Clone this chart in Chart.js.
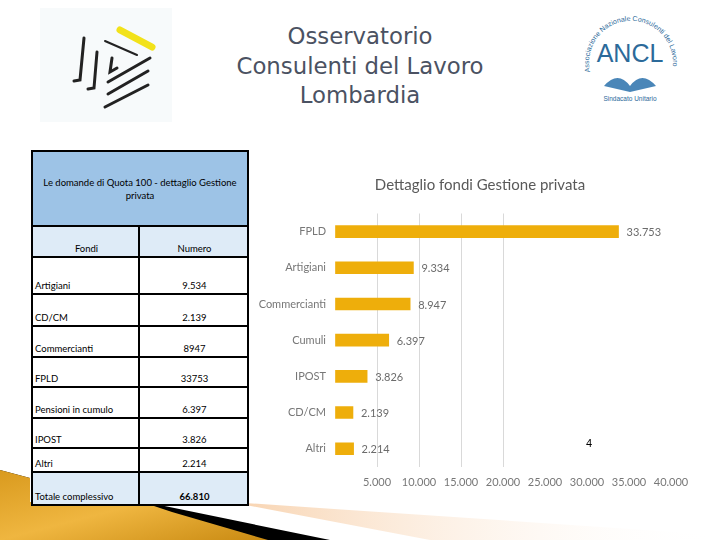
<!DOCTYPE html>
<html>
<head>
<meta charset="utf-8">
<script src="https://cdn.jsdelivr.net/npm/chart.js@4/dist/chart.umd.min.js"></script>
<style>
  body { margin:0; width:720px; height:540px; background:#fff; position:relative; overflow:hidden; font-family:Lato, "Liberation Sans", sans-serif; }
  #deco { position:absolute; left:0; top:0; }
  #title { position:absolute; left:160px; top:22px; width:400px; text-align:center; font-family:"DejaVu Sans", sans-serif; font-size:22.8px; line-height:29.5px; color:#4b5262; }
  #tbl { position:absolute; left:31px; top:150px; width:218px; border:2px solid #000; box-sizing:border-box; background:#fff; }
  .row { display:flex; border-top:2px solid #000; box-sizing:border-box; }
  .row:first-child { border-top:none; }
  .c { display:flex; align-items:flex-end; box-sizing:border-box; font-size:9.5px; color:#000; padding:0 0 2px 2px; }
  .c1 { width:107px; border-right:2px solid #000; }
  .c2 { flex:1; justify-content:center; }
  #wrap { position:absolute; left:255px; top:165px; width:450px; height:340px; }
  #pg { position:absolute; left:586px; top:437px; font:11px "Liberation Sans", Arial, sans-serif; color:#000; }
</style>
</head>
<body>
<svg id="deco" width="720" height="540">
  <defs>
    <linearGradient id="gold" x1="0" y1="0" x2="1" y2="1">
      <stop offset="0" stop-color="#d99a1e"/>
      <stop offset="0.5" stop-color="#efb640"/>
      <stop offset="1" stop-color="#c98a12"/>
    </linearGradient>
    <linearGradient id="peach" x1="0" y1="0" x2="1" y2="0">
      <stop offset="0" stop-color="#f6c79a"/>
      <stop offset="1" stop-color="#fff" stop-opacity="0"/>
    </linearGradient>
  </defs>
  <polygon points="230,502 720,535 720,540 430,540" fill="url(#peach)" opacity="0.8"/>
  <polygon points="0,470 30,478 30,502 150,503 330,540 0,540" fill="#000"/>
  <polygon points="0,470 30,478 30,502 148,504 172,512 268,540 0,540" fill="url(#gold)"/>
  <!-- logo sinistra -->
  <rect x="40" y="8" width="132" height="114" fill="#f7fafb"/>
  <g stroke="#222" stroke-width="3" stroke-linecap="round" fill="none">
    <path d="M84,38 L80,80 L74,81"/>
    <path d="M97,52 L94,88 L88,89"/>
    <line x1="105" y1="41" x2="137" y2="55" stroke-width="2"/>
    <path d="M112,58 L110,72 L117,68"/>
    <line x1="108" y1="82" x2="150" y2="58"/>
    <line x1="108" y1="94" x2="148" y2="71"/>
    <line x1="105" y1="107" x2="148" y2="85"/>
  </g>
  <line x1="120" y1="30" x2="152" y2="47" stroke="#f2e21a" stroke-width="7" stroke-linecap="round"/>
  <!-- logo destra -->
  <g font-family="Liberation Sans, Arial, sans-serif" fill="#2c6a9a">
    <text x="630" y="62" text-anchor="middle" font-size="25">ANCL</text>
    <path id="arc" d="M590,72 A42,42 0 1,1 672,72" fill="none"/>
    <text font-size="7"><textPath href="#arc">Associazione Nazionale Consulenti del Lavoro</textPath></text>
    <text x="630" y="101" text-anchor="middle" font-size="6.5">Sindacato Unitario</text>
    <path d="M604,86 Q618,70 630,86 Q642,70 656,86 L630,92 Z" fill="#4a86b8"/>
  </g>
</svg>
<div id="title">Osservatorio<br>Consulenti del Lavoro<br>Lombardia</div>
<div id="tbl"></div>
<div id="wrap"><canvas id="chart"></canvas></div>
<div id="pg">4</div>
<script>
// dati grafico
var titolo = 'Dettaglio fondi Gestione privata';
var fondi = ['FPLD', 'Artigiani', 'Commercianti', 'Cumuli', 'IPOST', 'CD/CM', 'Altri'];
var domande = [33753, 9334, 8947, 6397, 3826, 2139, 2214];
var tickVals = [5000, 10000, 15000, 20000, 25000, 30000, 35000, 40000];

// dati tabella
var tabTitolo = 'Le domande di Quota 100 - dettaglio Gestione privata';
var tabCol = ['Fondi', 'Numero'];
var tabFondi = ['Artigiani', 'CD/CM', 'Commercianti', 'FPLD', 'Pensioni in cumulo', 'IPOST', 'Altri', 'Totale complessivo'];
var tabNumeri = ['9.534', '2.139', '8947', '33753', '6.397', '3.826', '2.214', '66.810'];

function fmt(v) {
    return String(v).replace(/\B(?=(\d{3})+(?!\d))/g, '.');
}

// tabella
var rowH = [31, 37, 32, 31, 30, 31, 30, 24, 33];
var tbl = document.getElementById('tbl');
var h = '<div class="row" style="height:73px;background:#9dc3e6;"><div class="c" style="width:100%;justify-content:center;align-items:center;text-align:center;padding:0 4px;font-size:9.5px;line-height:13px">' + tabTitolo + '</div></div>';
h += '<div class="row" style="height:' + rowH[0] + 'px;background:#deebf7"><div class="c c1" style="justify-content:center">' + tabCol[0] + '</div><div class="c c2">' + tabCol[1] + '</div></div>';
for (var i = 0; i < tabFondi.length; i++) {
    var last = i == tabFondi.length - 1;
    h += '<div class="row" style="height:' + rowH[i + 1] + 'px;' + (last ? 'background:#deebf7' : '') + '">' +
        '<div class="c c1">' + tabFondi[i] + '</div>' +
        '<div class="c c2"' + (last ? ' style="font-weight:bold"' : '') + '>' + tabNumeri[i] + '</div></div>';
}
tbl.innerHTML = h;

// titolo centrato sul canvas + etichette valori a fine barra
var extras = {
    id: 'extras',
    afterDraw: function (chart) {
        var ctx = chart.ctx;
        ctx.save();
        ctx.font = '15px Lato, sans-serif';
        ctx.fillStyle = '#595959';
        ctx.textAlign = 'center';
        ctx.textBaseline = 'middle';
        ctx.fillText(titolo, chart.width / 2, 20);
        ctx.restore();
    },
    afterDatasetsDraw: function (chart) {
        var ctx = chart.ctx;
        var meta = chart.getDatasetMeta(0);
        ctx.save();
        ctx.font = '11px Lato, sans-serif';
        ctx.fillStyle = '#6b6b6b';
        ctx.textAlign = 'left';
        ctx.textBaseline = 'middle';
        meta.data.forEach(function (bar, i) {
            ctx.fillText(fmt(domande[i]), bar.x + 8, bar.y + 1);
        });
        ctx.restore();
    }
};

new Chart(document.getElementById('chart'), {
    type: 'bar',
    data: {
        labels: fondi,
        datasets: [{
            data: domande,
            backgroundColor: '#eeae0b',
            barThickness: 12
        }]
    },
    options: {
        indexAxis: 'y',
        responsive: true,
        maintainAspectRatio: false,
        animation: false,
        layout: { padding: { left: 0, right: 34, top: 48.5, bottom: 7 } },
        plugins: {
            legend: { display: false },
            tooltip: { enabled: false },
            title: { display: false }
        },
        scales: {
            x: {
                min: 0,
                max: 40000,
                afterBuildTicks: function (axis) {
                    axis.ticks = [{ value: 0 }].concat(tickVals.map(function (v) { return { value: v }; }));
                },
                ticks: {
                    padding: 9,
                    color: '#777',
                    font: { family: 'Lato, sans-serif', size: 11 },
                    callback: function (v) { return v == 0 ? '' : fmt(v); }
                },
                grid: {
                    drawTicks: false,
                    color: function (c) {
                        var v = c.tick ? c.tick.value : 0;
                        return (v >= 5000 && v <= 20000) ? '#d9d9d9' : 'rgba(0,0,0,0)';
                    }
                },
                border: { display: false }
            },
            y: {
                afterFit: function (axis) { axis.width = 80; },
                ticks: {
                    padding: 9,
                    color: '#777',
                    font: { family: 'Lato, sans-serif', size: 11 }
                },
                grid: { display: false, drawTicks: false },
                border: { display: false }
            }
        }
    },
    plugins: [extras]
});
</script>
</body>
</html>
